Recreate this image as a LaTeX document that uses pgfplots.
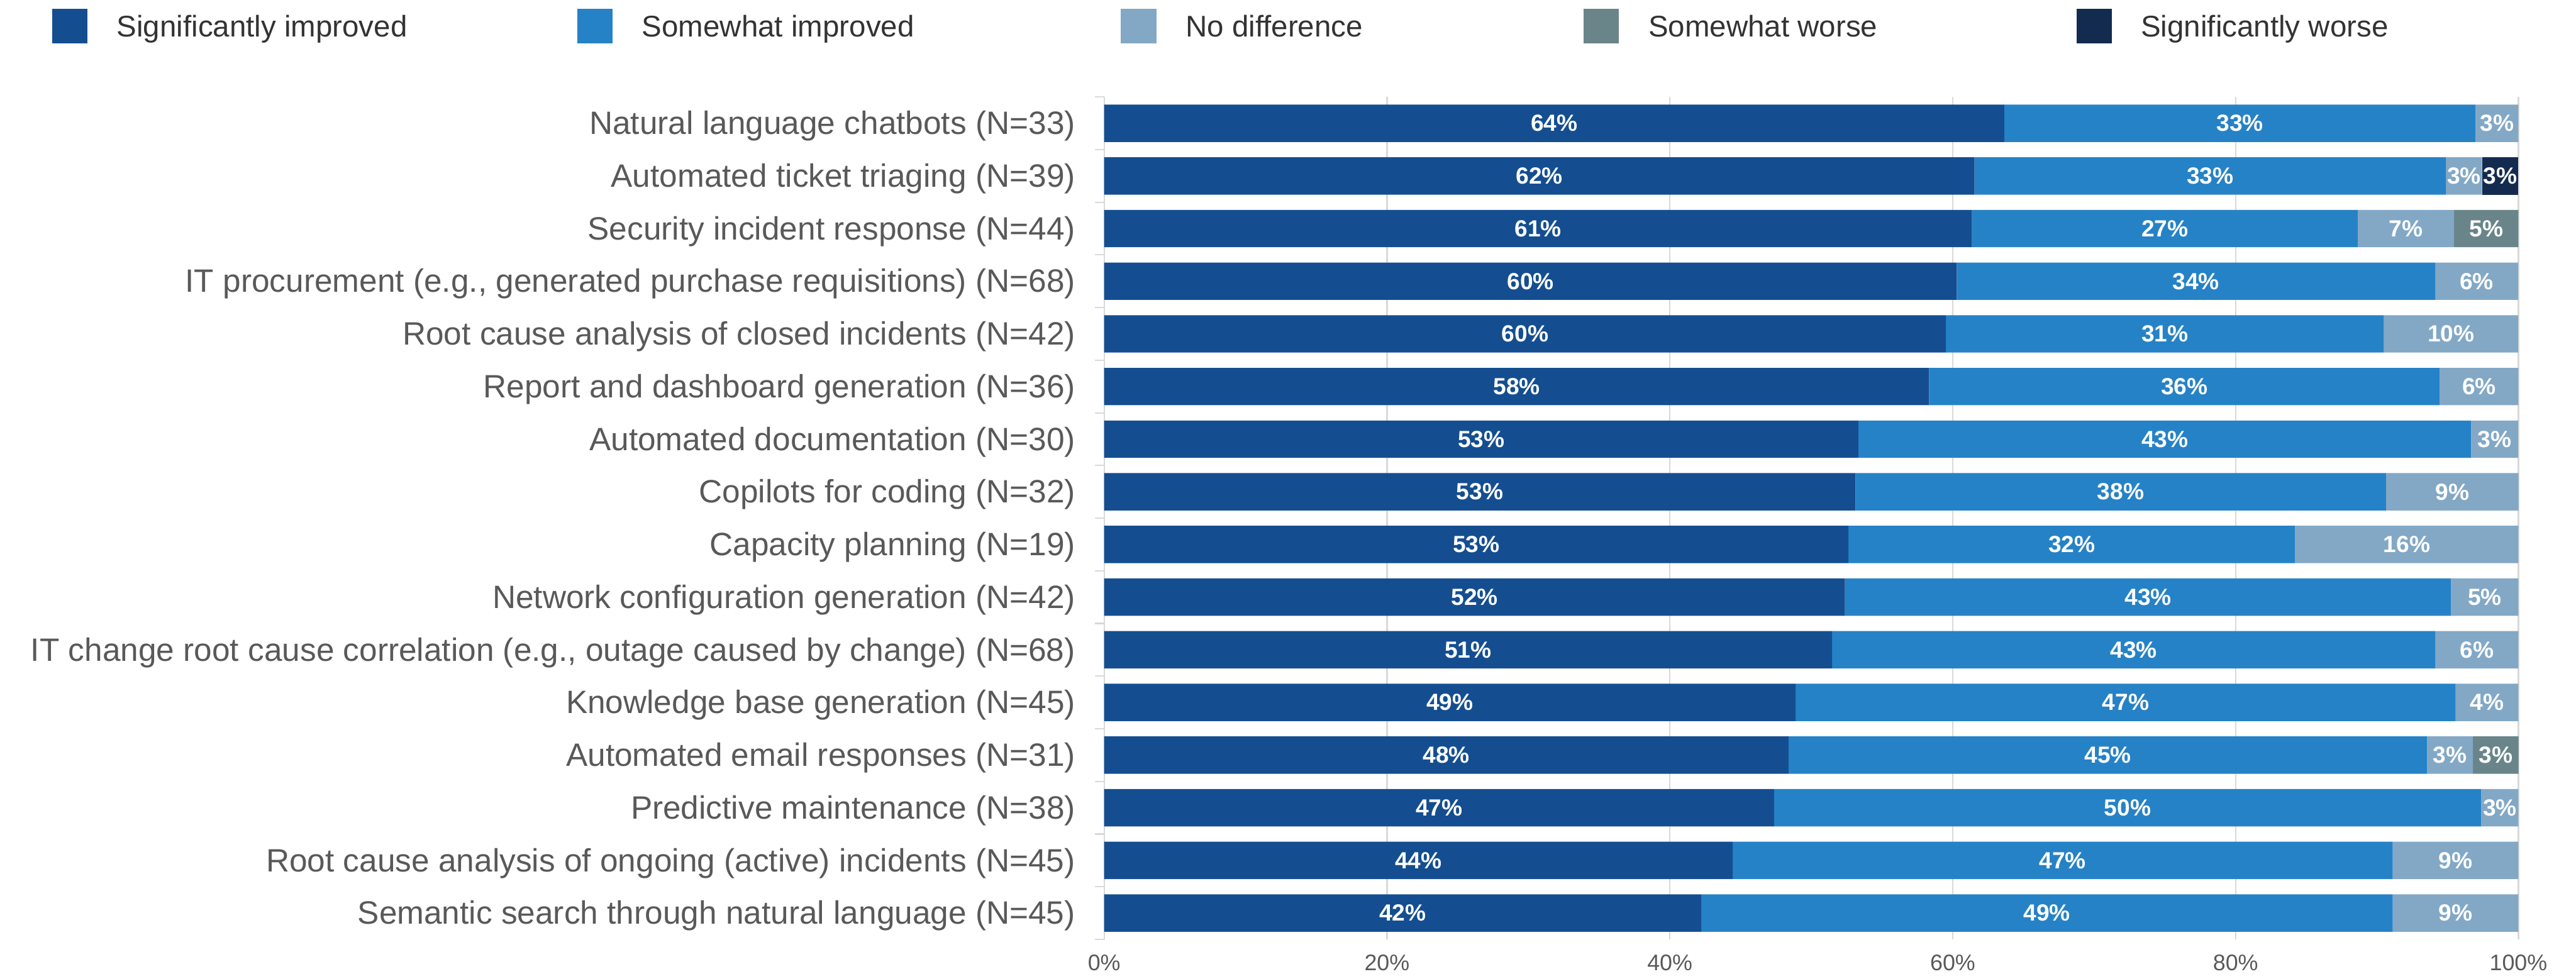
\documentclass[border=0pt]{standalone}
\usepackage{pgfplots}
\pgfplotsset{compat=1.18}
\usepackage{pgfplotstable}
\usepackage{fontspec}
\setmainfont{Liberation Sans}
\definecolor{cSI}{HTML}{144E91}
\definecolor{cWI}{HTML}{2682C6}
\definecolor{cND}{HTML}{82A8C6}
\definecolor{cSW}{HTML}{698589}
\definecolor{cSWo}{HTML}{142B50}
\definecolor{labgray}{HTML}{595959}
\definecolor{leggray}{HTML}{333333}
\definecolor{gridgray}{HTML}{D9D9D9}

\pgfplotstableread{
idx a b c d e
0 63.64 33.33 3.03 0 0
1 61.54 33.33 2.56 0 2.56
2 61.36 27.27 6.82 4.55 0
3 60.29 33.82 5.88 0 0
4 59.52 30.95 9.52 0 0
5 58.33 36.11 5.56 0 0
6 53.33 43.33 3.33 0 0
7 53.13 37.50 9.38 0 0
8 52.63 31.58 15.79 0 0
9 52.38 42.86 4.76 0 0
10 51.47 42.65 5.88 0 0
11 48.89 46.67 4.44 0 0
12 48.39 45.16 3.23 3.23 0
13 47.37 50.00 2.63 0 0
14 44.44 46.67 8.89 0 0
15 42.22 48.89 8.89 0 0
}\data

\pgfplotsset{
  geom/.style={
    scale only axis,
    width=520.8pt, height=310.3pt,
    at={(406.6pt,-346pt)}, anchor=south west,
    xmin=0, xmax=100, ymin=-0.5, ymax=15.5,
    y dir=reverse, clip=false,
  },
  lab/.style={
    draw=none, mark=none, point meta=explicit,
    nodes near coords={\pgfmathprintnumber[fixed,precision=0,assume math mode=true]{\pgfplotspointmeta}\%},
    every node near coord/.style={anchor=center, inner sep=0pt, text=white, font=\fontsize{8.6}{9}\selectfont\bfseries},
    unbounded coords=discard,
  },
}

\begin{document}
\begin{tikzpicture}
\useasboundingbox (0,0) rectangle (948.6pt,-360.4pt);
\begin{axis}[geom,
  xbar stacked, bar width=0.71,
  axis line style={draw=none},
  xtick={0,20,40,60,80,100},
  xticklabels={0\%,20\%,40\%,60\%,80\%,100\%},
  xmajorgrids, grid style={gridgray, line width=0.5pt},
  ytick={0,...,15},
  minor ytick={-0.5,0.5,...,15.5},
  major tick length=0pt, minor tick length=3.4pt,
  tick align=outside, ytick pos=left, xtick pos=bottom,
  xtick style={draw=none},
  ytick style={draw=gridgray, line width=0.5pt},
  yticklabels={
    {Natural language chatbots (N=33)},
    {Automated ticket triaging (N=39)},
    {Security incident response (N=44)},
    {IT procurement (e.g., generated purchase requisitions) (N=68)},
    {Root cause analysis of closed incidents (N=42)},
    {Report and dashboard generation (N=36)},
    {Automated documentation (N=30)},
    {Copilots for coding (N=32)},
    {Capacity planning (N=19)},
    {Network configuration generation (N=42)},
    {IT change root cause correlation (e.g., outage caused by change) (N=68)},
    {Knowledge base generation (N=45)},
    {Automated email responses (N=31)},
    {Predictive maintenance (N=38)},
    {Root cause analysis of ongoing (active) incidents (N=45)},
    {Semantic search through natural language (N=45)}},
  yticklabel style={anchor=east, inner sep=0pt, xshift=-10.4pt, yshift=-1pt, text=labgray, font=\fontsize{11.9}{14}\selectfont},
  xticklabel style={anchor=center, inner sep=0pt, yshift=-8.6pt, text=labgray, font=\fontsize{8.3}{10}\selectfont},
]
\addplot[fill=cSI, draw=none] table[x=a, y=idx] {\data};
\addplot[fill=cWI, draw=none] table[x=b, y=idx] {\data};
\addplot[fill=cND, draw=none] table[x=c, y=idx] {\data};
\addplot[fill=cSW, draw=none] table[x=d, y=idx] {\data};
\addplot[fill=cSWo, draw=none] table[x=e, y=idx] {\data};
\draw[gridgray, line width=0.5pt] (axis cs:0,-0.5) -- (axis cs:0,15.5);
\end{axis}
\begin{axis}[geom, hide axis]
\addplot[lab, restrict expr to domain={\thisrow{a}}{0.5:200}] table[x expr=\thisrow{a}/2, y=idx, meta=a] {\data};
\addplot[lab, restrict expr to domain={\thisrow{b}}{0.5:200}] table[x expr=\thisrow{a}+\thisrow{b}/2, y=idx, meta=b] {\data};
\addplot[lab, restrict expr to domain={\thisrow{c}}{0.5:200}] table[x expr=\thisrow{a}+\thisrow{b}+\thisrow{c}/2, y=idx, meta=c] {\data};
\addplot[lab, restrict expr to domain={\thisrow{d}}{0.5:200}] table[x expr=\thisrow{a}+\thisrow{b}+\thisrow{c}+\thisrow{d}/2, y=idx, meta=d] {\data};
\addplot[lab, restrict expr to domain={\thisrow{e}}{0.5:200}] table[x expr=\thisrow{a}+\thisrow{b}+\thisrow{c}+\thisrow{d}+\thisrow{e}/2, y=idx, meta=e] {\data};
\end{axis}
% legend
\begin{scope}[every node/.style={anchor=base west, inner sep=0pt, text=leggray, font=\fontsize{11}{13}\selectfont}]
\fill[cSI]  (19.2pt,-3.2pt) rectangle ++(13pt,-12.8pt);
\node at (42.8pt,-13.6pt) {Significantly improved};
\fill[cWI]  (212.6pt,-3.2pt) rectangle ++(13pt,-12.8pt);
\node at (236.2pt,-13.6pt) {Somewhat improved};
\fill[cND]  (412.8pt,-3.2pt) rectangle ++(13pt,-12.8pt);
\node at (436.4pt,-13.6pt) {No difference};
\fill[cSW]  (583.2pt,-3.2pt) rectangle ++(13pt,-12.8pt);
\node at (606.8pt,-13.6pt) {Somewhat worse};
\fill[cSWo] (764.6pt,-3.2pt) rectangle ++(13pt,-12.8pt);
\node at (788.2pt,-13.6pt) {Significantly worse};
\end{scope}
\end{tikzpicture}
\end{document}
